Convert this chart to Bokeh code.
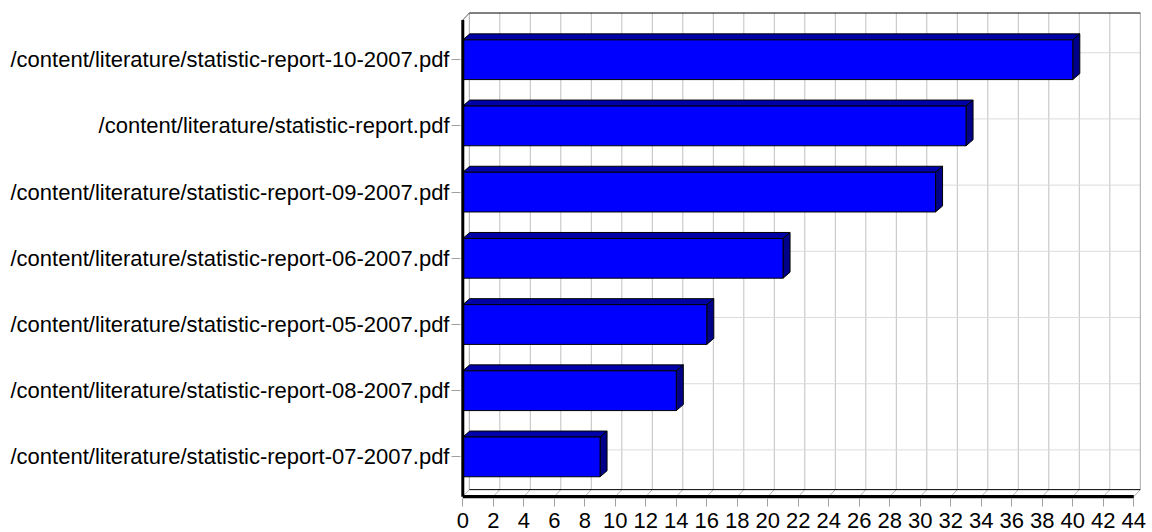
import numpy as np
from bokeh.plotting import figure
from bokeh.models import Range1d, FixedTicker
from bokeh.embed import file_html
from bokeh.resources import INLINE

categories = [
    "/content/literature/statistic-report-10-2007.pdf",
    "/content/literature/statistic-report.pdf",
    "/content/literature/statistic-report-09-2007.pdf",
    "/content/literature/statistic-report-06-2007.pdf",
    "/content/literature/statistic-report-05-2007.pdf",
    "/content/literature/statistic-report-08-2007.pdf",
    "/content/literature/statistic-report-07-2007.pdf",
]
values = [40, 33, 31, 21, 16, 14, 9]
x_ticks = list(range(0, 46, 2))
x_max = 44

# geometry (pixels per unit)
SX = 15.25
SY = 66.2
n = len(categories)
pos = list(range(n - 1, -1, -1))  # top category drawn highest
half = 0.3
pad = 0.6
front_bottom = -pad
front_top = (n - 1) + pad
dxw, dyw = 6.5 / SX, 7 / SY
dxb, dyb = 7 / SX, 6 / SY
back_bottom = front_bottom + dyw
back_top = front_top + dyw

frame_w = 683
frame_h = 487
x_start = -2.3 / SX
x_end = x_start + frame_w / SX
y_end = back_top + 1.5 / SY
y_start = y_end - frame_h / SY

p = figure(frame_width=frame_w, frame_height=frame_h,
           x_range=Range1d(x_start, x_end), y_range=Range1d(y_start, y_end),
           output_backend="svg", toolbar_location=None,
           min_border_left=460, min_border_right=9, min_border_top=11, min_border_bottom=34)
p.outline_line_color = None
p.grid.visible = False
p.background_fill_color = "white"
p.border_fill_color = "white"

# axes
p.xaxis.ticker = FixedTicker(ticks=x_ticks)
p.xaxis.axis_line_color = None
p.xaxis.major_tick_out = 8
p.xaxis.major_tick_in = 0
p.xaxis.minor_tick_line_color = None
p.xaxis.major_tick_line_color = "#a0a0a0"
p.xaxis.major_label_text_font = "Liberation Sans"
p.xaxis.major_label_text_font_size = "22px"
p.xaxis.major_label_text_color = "black"
p.xaxis.major_label_standoff = 6

p.yaxis.ticker = FixedTicker(ticks=pos)
p.yaxis.major_label_overrides = {pp: c for pp, c in zip(pos, categories)}
p.yaxis.axis_line_color = None
p.yaxis.major_tick_out = 9
p.yaxis.major_tick_in = 0
p.yaxis.minor_tick_line_color = None
p.yaxis.major_tick_line_color = "#a0a0a0"
p.yaxis.major_label_text_font = "Liberation Sans"
p.yaxis.major_label_text_font_size = "22px"
p.yaxis.major_label_text_color = "black"
p.yaxis.major_label_standoff = 2

# back wall grid
gx = [t + dxw for t in x_ticks]
p.segment(x0=gx[1:-1], y0=[back_bottom] * (len(gx) - 2), x1=gx[1:-1], y1=[back_top] * (len(gx) - 2),
          line_color="#c0c0c0", line_width=1)
gy = [pp + dyw for pp in pos]
p.segment(x0=[dxw] * n, y0=gy, x1=[x_max + dxw] * n, y1=gy, line_color="#dcdcdc", line_width=1)
# back wall side edges
p.segment(x0=[dxw, x_max + dxw], y0=[back_bottom, back_bottom], x1=[dxw, x_max + dxw], y1=[back_top, back_top],
          line_color="#a8a8a8", line_width=1)
# floor diagonals
p.segment(x0=x_ticks, y0=[front_bottom] * len(x_ticks), x1=gx, y1=[back_bottom] * len(x_ticks),
          line_color="#b0b0b0", line_width=1)
# back floor edge and top edge
p.segment(x0=[dxw, dxw], y0=[back_bottom, back_top], x1=[x_max + dxw, x_max + dxw], y1=[back_bottom, back_top],
          line_color="black", line_width=1)
# top-left corner diagonal
p.segment(x0=[0], y0=[front_top], x1=[dxw], y1=[back_top], line_color="#606060", line_width=1)

# bars: top faces, side faces, front faces
top_xs, top_ys, side_xs, side_ys = [], [], [], []
for pp, v in zip(pos, values):
    t = pp + half
    b = pp - half
    top_xs.append([0, v, v + dxb, dxb])
    top_ys.append([t, t, t + dyb, t + dyb])
    side_xs.append([v, v + dxb, v + dxb, v])
    side_ys.append([b, b + dyb, t + dyb, t])
p.patches(top_xs, top_ys, fill_color="#0000a8", line_color="black", line_width=1)
p.patches(side_xs, side_ys, fill_color="#000088", line_color="black", line_width=1)
p.quad(left=[0] * n, right=values, bottom=[pp - half for pp in pos], top=[pp + half for pp in pos],
       fill_color="#0000ff", line_color="black", line_width=1)

# thick front axes
p.segment(x0=[0], y0=[front_bottom], x1=[0], y1=[front_top], line_color="black", line_width=3)
p.segment(x0=[0], y0=[front_bottom], x1=[x_max], y1=[front_bottom], line_color="black", line_width=3.5)

open("out.html", "w").write(file_html(p, INLINE))
